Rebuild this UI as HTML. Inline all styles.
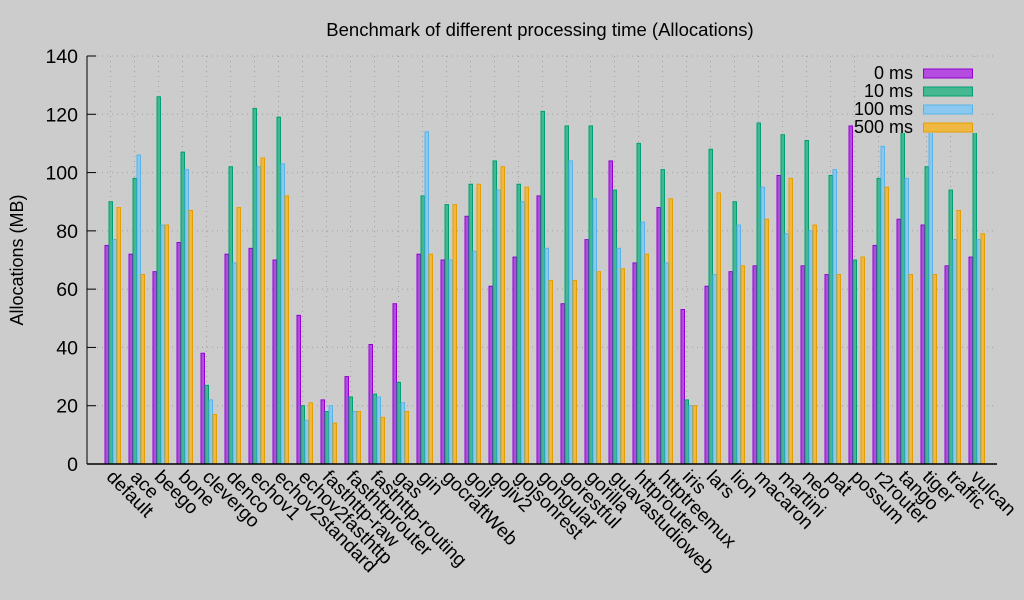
<!DOCTYPE html>
<html><head><meta charset="utf-8">
<style>
html,body{margin:0;padding:0;background:#cccccc;}
svg{display:block;font-family:"Liberation Sans",sans-serif;}
</style></head>
<body>
<svg id="chart" width="1024" height="600" viewBox="0 0 1024 600" xmlns="http://www.w3.org/2000/svg">
<rect x="0" y="0" width="1024" height="600" fill="#cccccc"/>
<text x="540" y="36" font-size="18.5" text-anchor="middle" fill="#000">Benchmark of different processing time (Allocations)</text>
<text transform="translate(23,260) rotate(-90)" font-size="18" text-anchor="middle" fill="#000">Allocations (MB)</text>
<g id="grid"></g>
<g id="bars"></g>
<g id="axes"></g>
<g id="legend"></g>
</svg>
<script>
const categories = ["default","ace","beego","bone","clevergo","denco","echov1","echov2standard","echov2fasthttp","fasthttp-raw","fasthttprouter","fasthttp-routing","gas","gin","gocraftWeb","goji","gojiv2","gojsonrest","gongular","gorestful","gorilla","guavastudioweb","httprouter","httptreemux","iris","lars","lion","macaron","martini","neo","pat","possum","r2router","tango","tiger","traffic","vulcan"];
const series0 = [75,72,66,76,38,72,74,70,51,22,30,41,55,72,70,85,61,71,92,55,77,104,69,88,53,61,66,68,99,68,65,116,75,84,82,68,71];
const series10 = [90,98,126,107,27,102,122,119,20,18,23,24,28,92,89,96,104,96,121,116,116,94,110,101,22,108,90,117,113,111,99,70,98,120,102,94,116];
const series100 = [77,106,82,101,22,69,102,103,15,20,18,23,21,114,70,73,94,90,74,104,91,74,83,69,20,65,82,95,79,80,101,0,109,98,116,77,77];
const series500 = [88,65,82,87,17,88,105,92,21,14,18,16,18,72,89,96,102,95,63,63,66,67,72,91,20,93,68,84,98,82,65,71,95,65,65,87,79];
const seriesNames = ["0 ms","10 ms","100 ms","500 ms"];
const yTicks = [0,20,40,60,80,100,120,140];

const NS="http://www.w3.org/2000/svg";
const fills=["#b44ddf","#46b891","#8ac8ef","#efb842"];
const strokes=["#9400d3","#009e73","#56b4e9","#e69f00"];
const X0=87,X1=997,Y0=464,YTOP=56,YMAX=140;
function yScale(v){return Y0-(v/YMAX)*(Y0-YTOP);}
function xCenter(i){return 112.5+24*i;}
function mk(tag,attrs,parent){const e=document.createElementNS(NS,tag);for(const k in attrs)e.setAttribute(k,attrs[k]);parent.appendChild(e);return e;}
const grid=document.getElementById('grid'),bars=document.getElementById('bars'),axes=document.getElementById('axes'),legend=document.getElementById('legend');
yTicks.forEach(t=>{
  const y=yScale(t);
  if(t>0){const l=mk('line',{x1:X0,x2:X1,y1:y,y2:y,stroke:'#a0a0a0','stroke-dasharray':'1,4'},grid);
  
  }
  const tk=mk('line',{x1:X0,x2:X0+9,y1:y,y2:y,stroke:'#000'},axes);
  
  
  const tx=mk('text',{x:X0-9,y:y+7,'font-size':19.5,'text-anchor':'end',fill:'#000'},axes);
  tx.textContent=t;
  
  
});
categories.forEach((c,i)=>{
  const cx=xCenter(i)-2;
  const g=mk('line',{x1:cx,x2:cx,y1:YTOP,y2:Y0,stroke:'#a0a0a0','stroke-dasharray':'1,4'},grid);
  
  
  const vals=[series0[i],series10[i],series100[i],series500[i]];
  vals.forEach((v,s)=>{
    if(!v)return;
    const x=xCenter(i)-8+4*s,y=yScale(v);
    const r=mk('rect',{x:x+0.5,y:y,width:3.5,height:Y0-y,fill:fills[s],stroke:strokes[s],'stroke-width':1},bars);
    
    
  });
  const t=mk('text',{transform:'translate('+(xCenter(i)-7)+',478) rotate(45)','font-size':19,fill:'#000'},axes);
  t.textContent=c;
  
  
});
const ax=mk('line',{x1:X0,x2:X1,y1:Y0,y2:Y0,stroke:'#000','stroke-width':1.5},axes);


const ay=mk('line',{x1:X0,x2:X0,y1:YTOP,y2:Y0,stroke:'#000','stroke-width':1},axes);


const lb=mk('rect',{x:858,y:60,width:122,height:73,fill:'#cccccc'},legend);


seriesNames.forEach((n,s)=>{
  const y=73+18*s;
  const t=mk('text',{x:913,y:y+6,'font-size':18,'text-anchor':'end',fill:'#000'},legend);
  t.textContent=n;
  
  
  const r=mk('rect',{x:923.5,y:y-4,width:49,height:9,fill:fills[s],stroke:strokes[s]},legend);
  
  
});
</script>
</body></html>
